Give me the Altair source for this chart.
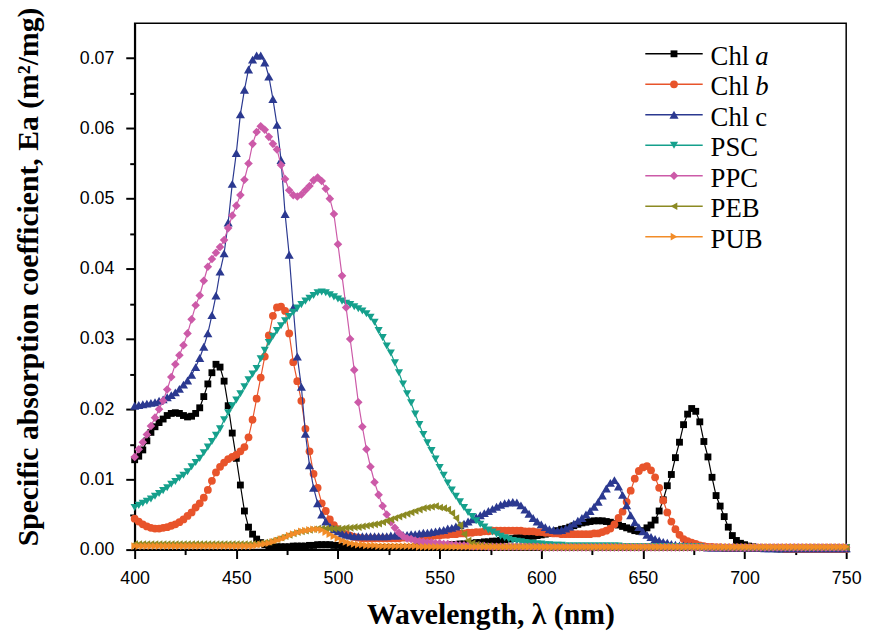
import altair as alt
import pandas as pd

# ---------------- data (2 nm steps) ----------------
wavelength = list(range(400, 751, 2))

chl_a = [
    0.0128, 0.0133, 0.0142, 0.0155, 0.0167, 0.0175, 0.0181, 0.0186, 0.0191, 0.0194,
    0.0195, 0.0194, 0.0191, 0.0189, 0.0190, 0.0194, 0.0202, 0.0218, 0.0236, 0.0252,
    0.0264, 0.0260, 0.0240, 0.0205, 0.0166, 0.0130, 0.0092, 0.0055, 0.0032, 0.0022,
    0.0015, 0.0010, 0.0007, 0.0005, 0.0004, 0.0004, 0.0004, 0.0004, 0.0004, 0.0005,
    0.0005, 0.0005, 0.0005, 0.0006, 0.0006, 0.0007, 0.0007, 0.0007, 0.0007, 0.0006,
    0.0006, 0.0005, 0.0004, 0.0004, 0.0003, 0.0003, 0.0003, 0.0003, 0.0003, 0.0003,
    0.0003, 0.0003, 0.0003, 0.0003, 0.0003, 0.0003, 0.0003, 0.0003, 0.0003, 0.0004,
    0.0004, 0.0004, 0.0004, 0.0005, 0.0005, 0.0005, 0.0006, 0.0006, 0.0007, 0.0007,
    0.0008, 0.0008, 0.0009, 0.0009, 0.0010, 0.0010, 0.0011, 0.0011, 0.0012, 0.0012,
    0.0013, 0.0014, 0.0015, 0.0016, 0.0017, 0.0017, 0.0018, 0.0019, 0.0019, 0.0020,
    0.0021, 0.0022, 0.0023, 0.0025, 0.0027, 0.0029, 0.0030, 0.0032, 0.0034, 0.0036,
    0.0038, 0.0039, 0.0040, 0.0041, 0.0041, 0.0041, 0.0040, 0.0039, 0.0037, 0.0035,
    0.0033, 0.0031, 0.0029, 0.0027, 0.0026, 0.0027, 0.0031, 0.0035, 0.0042, 0.0055,
    0.0071, 0.0091, 0.0107, 0.0131, 0.0153, 0.0178, 0.0193, 0.0201, 0.0197, 0.0182,
    0.0154, 0.0132, 0.0103, 0.0077, 0.0062, 0.0047, 0.0032, 0.0020, 0.0013, 0.0009,
    0.0007, 0.0005, 0.0004, 0.0003, 0.0003, 0.0002, 0.0002, 0.0002, 0.0001, 0.0001,
    0.0001, 0.0001, 0.0001, 0.0001, 0.0001, 0.0001, 0.0001, 0.0001,
    0.0001, 0.0001, 0.0001, 0.0001, 0.0001, 0.0001, 0.0001, 0.0001,
]

chl_b = [
    0.0044, 0.0040, 0.0036, 0.0033, 0.0031, 0.0030, 0.0030, 0.0031, 0.0032, 0.0034,
    0.0036, 0.0039, 0.0043, 0.0048, 0.0053, 0.0060, 0.0066, 0.0074, 0.0085, 0.0098,
    0.0110, 0.0118, 0.0124, 0.0129, 0.0132, 0.0135, 0.0140, 0.0146, 0.0160, 0.0185,
    0.0215, 0.0245, 0.0275, 0.0305, 0.0333, 0.0345, 0.0346, 0.0340, 0.0308, 0.0267,
    0.0240, 0.0212, 0.0172, 0.0140, 0.0108, 0.0088, 0.0066, 0.0055, 0.0043, 0.0035,
    0.0029, 0.0025, 0.0022, 0.0020, 0.0018, 0.0017, 0.0016, 0.0016, 0.0016, 0.0016,
    0.0016, 0.0016, 0.0016, 0.0016, 0.0016, 0.0016, 0.0017, 0.0017, 0.0017, 0.0017,
    0.0018, 0.0018, 0.0019, 0.0019, 0.0020, 0.0020, 0.0021, 0.0021, 0.0022, 0.0022,
    0.0023, 0.0023, 0.0024, 0.0024, 0.0025, 0.0025, 0.0026, 0.0026, 0.0027, 0.0027,
    0.0027, 0.0027, 0.0027, 0.0027, 0.0027, 0.0027, 0.0026, 0.0026, 0.0026, 0.0025,
    0.0025, 0.0024, 0.0024, 0.0023, 0.0023, 0.0022, 0.0022, 0.0022, 0.0022, 0.0022,
    0.0022, 0.0022, 0.0022, 0.0023, 0.0023, 0.0025, 0.0027, 0.0030, 0.0036, 0.0045,
    0.0054, 0.0068, 0.0084, 0.0101, 0.0112, 0.0117, 0.0119, 0.0113, 0.0103, 0.0088,
    0.0070, 0.0053, 0.0040, 0.0029, 0.0021, 0.0015, 0.0012, 0.0010, 0.0008, 0.0006,
    0.0005, 0.0004, 0.0004, 0.0003, 0.0003, 0.0002, 0.0002, 0.0002, 0.0002, 0.0002,
    0.0002, 0.0002, 0.0002, 0.0002, 0.0002, 0.0002, 0.0002, 0.0002, 0.0002, 0.0002,
    0.0001, 0.0001, 0.0001, 0.0001, 0.0001, 0.0001, 0.0001, 0.0001,
    0.0001, 0.0001, 0.0001, 0.0001, 0.0001, 0.0001, 0.0001, 0.0001,
]

chl_c = [
    0.0205, 0.0206, 0.0207, 0.0208, 0.0209, 0.0210, 0.0212, 0.0214, 0.0217, 0.0220,
    0.0224, 0.0229, 0.0235, 0.0241, 0.0249, 0.0260, 0.0273, 0.0289, 0.0308, 0.0334,
    0.0362, 0.0396, 0.0422, 0.0466, 0.0521, 0.0565, 0.0620, 0.0655, 0.0684, 0.0698,
    0.0704, 0.0704, 0.0694, 0.0674, 0.0642, 0.0605, 0.0555, 0.0478, 0.0420, 0.0345,
    0.0275, 0.0232, 0.0165, 0.0120, 0.0088, 0.0066, 0.0050, 0.0040, 0.0033, 0.0029,
    0.0026, 0.0023, 0.0021, 0.0020, 0.0019, 0.0019, 0.0019, 0.0019, 0.0019, 0.0019,
    0.0019, 0.0019, 0.0019, 0.0020, 0.0020, 0.0020, 0.0021, 0.0021, 0.0022, 0.0022,
    0.0023, 0.0024, 0.0024, 0.0025, 0.0026, 0.0027, 0.0028, 0.0030, 0.0031, 0.0033,
    0.0035, 0.0037, 0.0040, 0.0043, 0.0046, 0.0049, 0.0052, 0.0055, 0.0058, 0.0061,
    0.0064, 0.0066, 0.0067, 0.0068, 0.0067, 0.0063, 0.0057, 0.0051, 0.0045, 0.0040,
    0.0036, 0.0032, 0.0029, 0.0028, 0.0027, 0.0028, 0.0030, 0.0033, 0.0037, 0.0041,
    0.0045, 0.0050, 0.0055, 0.0061, 0.0068, 0.0077, 0.0087, 0.0095, 0.0099, 0.0090,
    0.0078, 0.0063, 0.0049, 0.0039, 0.0032, 0.0026, 0.0021, 0.0018, 0.0015, 0.0013,
    0.0011, 0.0010, 0.0008, 0.0007, 0.0006, 0.0006, 0.0005, 0.0005, 0.0004, 0.0004,
    0.0004, 0.0003, 0.0003, 0.0003, 0.0003, 0.0003, 0.0003, 0.0003, 0.0003, 0.0003,
    0.0003, 0.0003, 0.0003, 0.0003, 0.0003, 0.0002, 0.0002, 0.0002, 0.0002, 0.0002,
    0.0002, 0.0002, 0.0002, 0.0002, 0.0002, 0.0002, 0.0002, 0.0002,
    0.0002, 0.0002, 0.0002, 0.0002, 0.0002, 0.0002, 0.0002, 0.0002,
]

psc = [
    0.0060, 0.0063, 0.0066, 0.0069, 0.0072, 0.0076, 0.0080, 0.0084, 0.0088, 0.0093,
    0.0097, 0.0102, 0.0106, 0.0111, 0.0118, 0.0124, 0.0130, 0.0138, 0.0146, 0.0154,
    0.0163, 0.0172, 0.0185, 0.0195, 0.0205, 0.0213, 0.0222, 0.0232, 0.0242, 0.0250,
    0.0258, 0.0272, 0.0284, 0.0295, 0.0304, 0.0312, 0.0319, 0.0326, 0.0332, 0.0338,
    0.0344, 0.0349, 0.0354, 0.0358, 0.0362, 0.0366, 0.0367, 0.0366, 0.0363, 0.0360,
    0.0357, 0.0354, 0.0351, 0.0349, 0.0346, 0.0343, 0.0340, 0.0336, 0.0331, 0.0324,
    0.0312, 0.0302, 0.0290, 0.0280, 0.0266, 0.0252, 0.0236, 0.0222, 0.0209, 0.0193,
    0.0178, 0.0164, 0.0152, 0.0141, 0.0129, 0.0117, 0.0106, 0.0095, 0.0085, 0.0076,
    0.0068, 0.0060, 0.0053, 0.0047, 0.0041, 0.0036, 0.0032, 0.0028, 0.0025, 0.0022,
    0.0019, 0.0017, 0.0015, 0.0013, 0.0012, 0.0011, 0.0010, 0.0009, 0.0009, 0.0008,
    0.0008, 0.0007, 0.0007, 0.0006, 0.0006, 0.0006, 0.0005, 0.0005, 0.0005, 0.0005,
    0.0005, 0.0005, 0.0005, 0.0005, 0.0005, 0.0005, 0.0005, 0.0005, 0.0005, 0.0005,
    0.0004, 0.0004, 0.0004, 0.0004, 0.0004, 0.0004, 0.0004, 0.0004, 0.0004, 0.0004,
    0.0004, 0.0004, 0.0004, 0.0004, 0.0004, 0.0004, 0.0004, 0.0004, 0.0004, 0.0004,
    0.0003, 0.0003, 0.0003, 0.0003, 0.0003, 0.0003, 0.0003, 0.0003, 0.0003, 0.0003,
    0.0003, 0.0003, 0.0003, 0.0003, 0.0003, 0.0003, 0.0003, 0.0003, 0.0003, 0.0003,
    0.0003, 0.0003, 0.0003, 0.0003, 0.0003, 0.0003, 0.0003, 0.0003,
    0.0003, 0.0003, 0.0003, 0.0003, 0.0003, 0.0003, 0.0003, 0.0003,
]

ppc = [
    0.0132, 0.0143, 0.0153, 0.0164, 0.0176, 0.0188, 0.0200, 0.0212, 0.0228, 0.0246,
    0.0264, 0.0277, 0.0291, 0.0308, 0.0328, 0.0348, 0.0362, 0.0383, 0.0403, 0.0414,
    0.0423, 0.0431, 0.0441, 0.0458, 0.0476, 0.0490, 0.0505, 0.0527, 0.0550, 0.0578,
    0.0595, 0.0603, 0.0598, 0.0588, 0.0578, 0.0570, 0.0548, 0.0528, 0.0512, 0.0505,
    0.0503, 0.0506, 0.0512, 0.0518, 0.0526, 0.0530, 0.0525, 0.0514, 0.0500, 0.0478,
    0.0435, 0.0390, 0.0345, 0.0300, 0.0256, 0.0210, 0.0175, 0.0143, 0.0118, 0.0096,
    0.0078, 0.0062, 0.0050, 0.0039, 0.0031, 0.0024, 0.0019, 0.0016, 0.0015, 0.0013,
    0.0012, 0.0011, 0.0010, 0.0010, 0.0009, 0.0009, 0.0008, 0.0008, 0.0007, 0.0007,
    0.0006, 0.0006, 0.0006, 0.0005, 0.0005, 0.0005, 0.0005, 0.0004, 0.0004, 0.0004,
    0.0004, 0.0004, 0.0004, 0.0004, 0.0004, 0.0004, 0.0004, 0.0004, 0.0004, 0.0004,
    0.0003, 0.0003, 0.0003, 0.0003, 0.0003, 0.0003, 0.0003, 0.0003, 0.0003, 0.0003,
    0.0003, 0.0003, 0.0003, 0.0003, 0.0003, 0.0003, 0.0003, 0.0003, 0.0003, 0.0003,
    0.0003, 0.0003, 0.0003, 0.0003, 0.0003, 0.0003, 0.0003, 0.0003, 0.0003, 0.0003,
    0.0003, 0.0003, 0.0003, 0.0003, 0.0003, 0.0003, 0.0003, 0.0003, 0.0003, 0.0003,
    0.0003, 0.0003, 0.0003, 0.0003, 0.0003, 0.0003, 0.0003, 0.0003, 0.0003, 0.0003,
    0.0003, 0.0003, 0.0003, 0.0003, 0.0003, 0.0003, 0.0003, 0.0003, 0.0003, 0.0003,
    0.0003, 0.0003, 0.0003, 0.0003, 0.0003, 0.0003, 0.0003, 0.0003,
    0.0003, 0.0003, 0.0003, 0.0003, 0.0003, 0.0003, 0.0003, 0.0003,
]

peb = [
    0.0008, 0.0008, 0.0008, 0.0008, 0.0008, 0.0008, 0.0008, 0.0008, 0.0008, 0.0008,
    0.0008, 0.0008, 0.0008, 0.0008, 0.0008, 0.0008, 0.0008, 0.0008, 0.0008, 0.0008,
    0.0008, 0.0008, 0.0008, 0.0008, 0.0008, 0.0008, 0.0008, 0.0008, 0.0008, 0.0008,
    0.0008, 0.0009, 0.0010, 0.0011, 0.0013, 0.0015, 0.0017, 0.0019, 0.0021, 0.0023,
    0.0025, 0.0026, 0.0027, 0.0028, 0.0029, 0.0030, 0.0030, 0.0030, 0.0030, 0.0030,
    0.0030, 0.0030, 0.0031, 0.0031, 0.0032, 0.0032, 0.0033, 0.0034, 0.0035, 0.0036,
    0.0037, 0.0039, 0.0041, 0.0043, 0.0045, 0.0047, 0.0049, 0.0051, 0.0053, 0.0055,
    0.0057, 0.0059, 0.0060, 0.0061, 0.0062, 0.0060, 0.0059, 0.0057, 0.0052, 0.0045,
    0.0035, 0.0022, 0.0013, 0.0009, 0.0007, 0.0006, 0.0005, 0.0005, 0.0004, 0.0004,
    0.0004, 0.0004, 0.0004, 0.0004, 0.0004, 0.0004, 0.0004, 0.0004, 0.0004, 0.0004,
    0.0003, 0.0003, 0.0003, 0.0003, 0.0003, 0.0003, 0.0003, 0.0003, 0.0003, 0.0003,
    0.0003, 0.0003, 0.0003, 0.0003, 0.0003, 0.0003, 0.0003, 0.0003, 0.0003, 0.0003,
    0.0003, 0.0003, 0.0003, 0.0003, 0.0003, 0.0003, 0.0003, 0.0003, 0.0003, 0.0003,
    0.0003, 0.0003, 0.0003, 0.0003, 0.0003, 0.0003, 0.0003, 0.0003, 0.0003, 0.0003,
    0.0003, 0.0003, 0.0003, 0.0003, 0.0003, 0.0003, 0.0003, 0.0003, 0.0003, 0.0003,
    0.0003, 0.0003, 0.0003, 0.0003, 0.0003, 0.0003, 0.0003, 0.0003, 0.0003, 0.0003,
    0.0003, 0.0003, 0.0003, 0.0003, 0.0003, 0.0003, 0.0003, 0.0003,
    0.0003, 0.0003, 0.0003, 0.0003, 0.0003, 0.0003, 0.0003, 0.0003,
]

pub = [
    0.0005, 0.0005, 0.0005, 0.0005, 0.0005, 0.0005, 0.0005, 0.0005, 0.0005, 0.0005,
    0.0005, 0.0005, 0.0005, 0.0005, 0.0005, 0.0005, 0.0005, 0.0005, 0.0005, 0.0005,
    0.0005, 0.0005, 0.0005, 0.0005, 0.0005, 0.0005, 0.0005, 0.0005, 0.0005, 0.0005,
    0.0006, 0.0007, 0.0008, 0.0009, 0.0011, 0.0013, 0.0015, 0.0017, 0.0020, 0.0022,
    0.0024, 0.0026, 0.0027, 0.0028, 0.0029, 0.0029, 0.0028, 0.0025, 0.0022, 0.0019,
    0.0016, 0.0013, 0.0011, 0.0009, 0.0008, 0.0007, 0.0007, 0.0006, 0.0006, 0.0006,
    0.0005, 0.0005, 0.0005, 0.0005, 0.0005, 0.0005, 0.0005, 0.0005, 0.0005, 0.0005,
    0.0004, 0.0004, 0.0004, 0.0004, 0.0004, 0.0004, 0.0004, 0.0004, 0.0004, 0.0004,
    0.0004, 0.0004, 0.0004, 0.0004, 0.0004, 0.0004, 0.0004, 0.0004, 0.0004, 0.0004,
    0.0004, 0.0004, 0.0004, 0.0004, 0.0004, 0.0004, 0.0004, 0.0004, 0.0004, 0.0004,
    0.0004, 0.0004, 0.0004, 0.0004, 0.0004, 0.0004, 0.0004, 0.0004, 0.0004, 0.0004,
    0.0004, 0.0004, 0.0004, 0.0004, 0.0004, 0.0004, 0.0004, 0.0004, 0.0004, 0.0004,
    0.0004, 0.0004, 0.0004, 0.0004, 0.0004, 0.0004, 0.0004, 0.0004, 0.0004, 0.0004,
    0.0004, 0.0004, 0.0004, 0.0004, 0.0004, 0.0004, 0.0004, 0.0004, 0.0004, 0.0004,
    0.0004, 0.0004, 0.0004, 0.0004, 0.0004, 0.0004, 0.0004, 0.0004, 0.0004, 0.0004,
    0.0004, 0.0004, 0.0004, 0.0004, 0.0004, 0.0004, 0.0004, 0.0004, 0.0004, 0.0004,
    0.0004, 0.0004, 0.0004, 0.0004, 0.0004, 0.0004, 0.0004, 0.0004,
    0.0004, 0.0004, 0.0004, 0.0004, 0.0004, 0.0004, 0.0004, 0.0004,
]

series_names = ["Chl a", "Chl b", "Chl c", "PSC", "PPC", "PEB", "PUB"]
series_values = [chl_a, chl_b, chl_c, psc, ppc, peb, pub]
series_colors = ["#000000", "#E8542B", "#2B3990", "#15A08C", "#CC5AA8", "#8B8A22", "#F28C28"]
series_shapes = ["square", "circle", "triangle-up", "triangle-down", "diamond",
                 "triangle-left", "triangle-right"]
series_sizes = [48, 62, 85, 68, 75, 60, 60]

x_ticks = list(range(400, 751, 25))
y_ticks = [round(i * 0.005, 3) for i in range(15)]

rows = []
for name, vals in zip(series_names, series_values):
    for w, v in zip(wavelength, vals):
        rows.append({"wl": w, "value": v, "series": name})
df = pd.DataFrame(rows)

# ---------------- layout ----------------
W, H = 719, 532

x_axis = alt.Axis(
    values=x_ticks,
    format="d",
    labelExpr="datum.value % 50 === 0 ? datum.label : ''",
    labelFlush=False,
    tickSize={"condition": {"test": "datum.value % 50 === 0", "value": 9}, "value": 5},
    tickWidth=2, tickColor="black",
    domainWidth=2, domainColor="black",
    labelFont="Liberation Sans", labelFontSize=18, labelColor="black", labelPadding=11,
    grid=False,
    title="Wavelength, λ (nm)",
    titleFont="Liberation Serif", titleFontSize=30, titleFontWeight="bold", titleColor="black",
    titleX=W / 2, titleY=75, titleAlign="center", titleBaseline="alphabetic",
)

y_axis = alt.Axis(
    values=y_ticks,
    labelExpr="round(datum.value * 1000) % 10 === 0 ? format(datum.value, '.2f') : ''",
    labelFlush=False,
    tickSize={"condition": {"test": "round(datum.value * 1000) % 10 === 0", "value": 9}, "value": 5},
    tickWidth=2, tickColor="black",
    domainWidth=2, domainColor="black",
    labelFont="Liberation Sans", labelFontSize=18, labelColor="black", labelPadding=12,
    grid=False,
    title="Specific absorption coefficient, Ea (m²/mg)",
    titleFont="Liberation Serif", titleFontSize=30, titleFontWeight="bold", titleColor="black",
    titleAngle=-90, titleX=-107, titleY=H / 2 - 10, titleAlign="center", titleBaseline="middle",
)

x_enc = alt.X("wl:Q", scale=alt.Scale(domain=[400, 750], nice=False, zero=False), axis=x_axis)
y_enc = alt.Y("value:Q", scale=alt.Scale(domain=[0, 0.075], nice=False), axis=y_axis)

layers = []
for name, col, shp, sz in zip(series_names, series_colors, series_shapes, series_sizes):
    src = alt.Chart(df).transform_filter(alt.datum.series == name)
    layers.append(src.mark_line(color=col, strokeWidth=1.2).encode(x=x_enc, y=y_enc))
    layers.append(
        src.mark_point(shape=shp, filled=True, size=sz, color=col, opacity=1)
        .encode(x=x_enc, y=y_enc)
    )

# ---------------- legend (drawn by hand) ----------------
leg_y0, leg_dy = 31, 30.8
for i, (name, col, shp, sz) in enumerate(zip(series_names, series_colors, series_shapes, series_sizes)):
    yl = leg_y0 + i * leg_dy
    one = alt.Chart(pd.DataFrame({"series": [name]}))
    layers.append(one.mark_rule(color=col, strokeWidth=1.5).encode(
        x=alt.value(516), x2=alt.value(574), y=alt.value(yl)))
    layers.append(one.mark_point(shape=shp, filled=True, size=sz, color=col, opacity=1).encode(
        x=alt.value(545), y=alt.value(yl)))
    if name.startswith("Chl"):
        base, suffix = name.split(" ")
        layers.append(one.mark_text(align="left", baseline="alphabetic", font="Liberation Serif",
                                    fontSize=27, color="black").encode(
            x=alt.value(582), y=alt.value(yl + 11), text=alt.value(base)))
        layers.append(one.mark_text(align="left", baseline="alphabetic", font="Liberation Serif",
                                    fontSize=27, color="black",
                                    fontStyle="italic" if suffix in ("a", "b") else "normal").encode(
            x=alt.value(627), y=alt.value(yl + 11), text=alt.value(suffix)))
    else:
        layers.append(one.mark_text(align="left", baseline="alphabetic", font="Liberation Serif",
                                    fontSize=27, color="black").encode(
            x=alt.value(582), y=alt.value(yl + 11), text=alt.value(name)))

chart = (
    alt.layer(*layers)
    .properties(
        width=W, height=H,
        autosize=alt.AutoSizeParams(type="none"),
        padding={"left": 128, "top": 12, "right": 18, "bottom": 83},
        background="white",
    )
    .configure_view(stroke="black", strokeWidth=1.5)
)

chart.save("out.html", embed_options={"renderer": "svg", "actions": False})
